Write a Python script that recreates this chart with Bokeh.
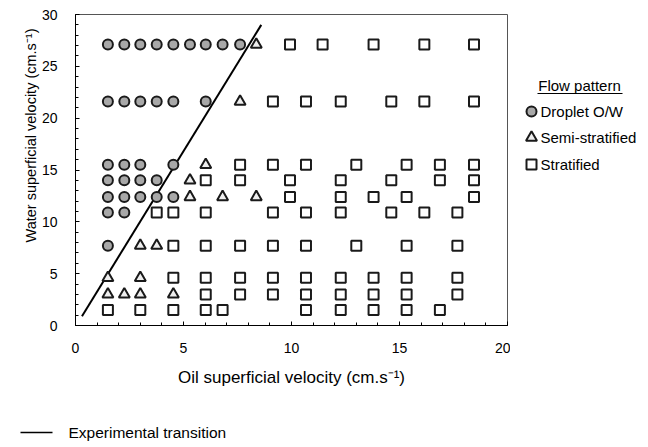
from bokeh.plotting import figure
from bokeh.models import Range1d, Title, FixedTicker
from bokeh.layouts import column, row
from bokeh.embed import file_html
from bokeh.resources import INLINE
from bokeh.core.properties import value

FONT = "Liberation Sans"

# ---------------- data ----------------
droplet_x = [1.5, 2.26, 3.0, 3.76, 4.53, 5.3, 6.03, 6.81, 7.62,
             1.5, 2.26, 3.0, 3.76, 4.53, 6.03,
             1.5, 2.26, 3.0, 4.53,
             1.5, 2.26, 3.0, 3.76,
             1.5, 2.26, 3.0, 3.76, 4.53,
             1.5, 2.26,
             1.5]
droplet_y = [27.1] * 9 + [21.6] * 6 + [15.5] * 4 + [14.0] * 4 + [12.4] * 5 + [10.9] * 2 + [7.7]

semi_x = [8.37, 7.62, 6.03, 5.3, 5.3, 6.81, 8.37, 3.0, 3.76, 1.5, 3.0, 1.5, 2.26, 3.0, 4.53]
semi_y = [27.1, 21.6, 15.5, 14.0, 12.4, 12.4, 12.4, 7.7, 7.7, 4.6, 4.6, 3.0, 3.0, 3.0, 3.0]

strat_x = [9.93, 11.44, 13.8, 16.15, 18.45,
           9.14, 10.67, 12.28, 14.62, 16.15, 18.45,
           7.62, 9.14, 10.67, 13.0, 15.33, 16.87, 18.45,
           6.03, 7.62, 9.93, 12.28, 14.62, 16.87, 18.45,
           9.93, 12.28, 13.8, 15.33, 18.45,
           3.76, 4.53, 6.03, 9.14, 10.67, 12.28, 14.62, 16.15, 17.68,
           4.53, 6.03, 7.62, 9.14, 10.67, 13.0, 15.33, 17.68,
           4.53, 6.03, 7.62, 9.14, 10.67, 12.28, 13.8, 15.33, 17.68,
           6.03, 7.62, 9.14, 10.67, 12.28, 13.8, 15.33, 17.68,
           1.5, 3.0, 4.53, 6.03, 6.81, 10.67, 12.28, 13.8, 15.33, 16.87]
strat_y = ([27.1] * 5 + [21.6] * 6 + [15.5] * 7 + [14.0] * 7 + [12.4] * 5 +
           [10.9] * 9 + [7.7] * 8 + [4.6] * 9 + [3.0] * 8 + [1.5] * 10)

transition_x = [0.3, 8.6]
transition_y = [0.9, 29.0]

x_ticks = [0, 5, 10, 15, 20]
y_ticks = [0, 5, 10, 15, 20, 25, 30]

x_title = "Oil superficial velocity (cm.s\u207b\u00b9)"
y_title = "Water superficial velocity (cm.s\u207b\u00b9)"
legend_title = "Flow pattern"
legend_labels = ["Droplet O/W", "Semi-stratified", "Stratified"]
line_label = "Experimental transition"

# ---------------- main plot ----------------
p = figure(width=510, height=392, x_range=Range1d(0, 20), y_range=Range1d(0, 30),
           output_backend="svg", toolbar_location=None,
           min_border_left=75, min_border_right=3, min_border_top=14, min_border_bottom=67)
p.xgrid.visible = False
p.ygrid.visible = False
p.outline_line_color = "#555555"
p.background_fill_color = "white"
p.border_fill_color = "white"

p.xaxis.ticker = FixedTicker(ticks=x_ticks, minor_ticks=list(range(0, 21)))
p.yaxis.ticker = FixedTicker(ticks=y_ticks, minor_ticks=list(range(0, 31)))
for ax in (p.xaxis, p.yaxis):
    ax.major_tick_in = 4
    ax.major_tick_out = 0
    ax.minor_tick_in = 3
    ax.minor_tick_out = 0
    ax.axis_line_color = "black"
    ax.major_tick_line_color = "black"
    ax.minor_tick_line_color = "black"
    ax.major_label_text_font = FONT
    ax.major_label_text_font_size = "14px"
    ax.major_label_text_color = "black"
p.xaxis.major_label_standoff = 17
p.yaxis.major_label_standoff = 18
p.xaxis.axis_label = x_title
p.xaxis.axis_label_text_font = FONT
p.xaxis.axis_label_text_font_size = "17px"
p.xaxis.axis_label_text_font_style = "normal"
p.xaxis.axis_label_text_color = "black"
p.xaxis.axis_label_standoff = 12

yt = Title(text=y_title, align="right", offset=14, standoff=0, text_font=FONT,
           text_font_size="14.5px", text_font_style="normal", text_color="black")
p.add_layout(yt, "left")

p.line(transition_x, transition_y, line_color="black", line_width=2)
p.scatter(droplet_x, droplet_y, marker="circle", size=10, fill_color="#a8a8a8",
          line_color="#1a1a1a", line_width=2)
p.scatter(semi_x, semi_y, marker="triangle", size=11, fill_color="#eeeeee",
          line_color="#1a1a1a", line_width=2)
p.scatter(strat_x, strat_y, marker="square", size=10, fill_color="white",
          line_color="#1a1a1a", line_width=2)

# ---------------- legend panel (right); its frame lines up with the plot frame ----------------
leg = figure(width=130, height=392, x_range=Range1d(510, 640), y_range=Range1d(325, 14),
             output_backend="svg", toolbar_location=None, min_border=0,
             min_border_top=14, min_border_bottom=67, min_border_left=0, min_border_right=0,
             x_axis_location=None, y_axis_location=None)
leg.grid.visible = False
leg.outline_line_color = None
leg.text(x=[579], y=[85], text=[legend_title], text_align="center", text_baseline="middle",
         text_font=value(FONT), text_font_size="15px", text_color="black")
leg.segment(x0=[537], y0=[93], x1=[622], y1=[93], line_color="black", line_width=1.2)
leg.scatter([531], [111], marker="circle", size=10, fill_color="#a8a8a8",
            line_color="#1a1a1a", line_width=2)
leg.scatter([531], [137], marker="triangle", size=11, fill_color="#eeeeee",
            line_color="#1a1a1a", line_width=2)
leg.scatter([531], [164], marker="square", size=10, fill_color="white",
            line_color="#1a1a1a", line_width=2)
leg.text(x=[540, 540, 540], y=[111, 137, 164], text=legend_labels, text_align="left",
         text_baseline="middle", text_font=value(FONT), text_font_size="15px", text_color="black")

# ---------------- bottom legend ----------------
bot = figure(width=640, height=50, x_range=Range1d(0, 640), y_range=Range1d(442, 392),
             output_backend="svg", toolbar_location=None, min_border=0,
             x_axis_location=None, y_axis_location=None)
bot.grid.visible = False
bot.outline_line_color = None
bot.segment(x0=[20], y0=[432], x1=[52], y1=[432], line_color="black", line_width=1.5)
bot.text(x=[68], y=[432], text=[line_label], text_align="left", text_baseline="middle",
         text_font=value(FONT), text_font_size="15.5px", text_color="black")

layout = column(row(p, leg, spacing=0), bot, spacing=0)
open("out.html", "w").write(file_html(layout, INLINE))
